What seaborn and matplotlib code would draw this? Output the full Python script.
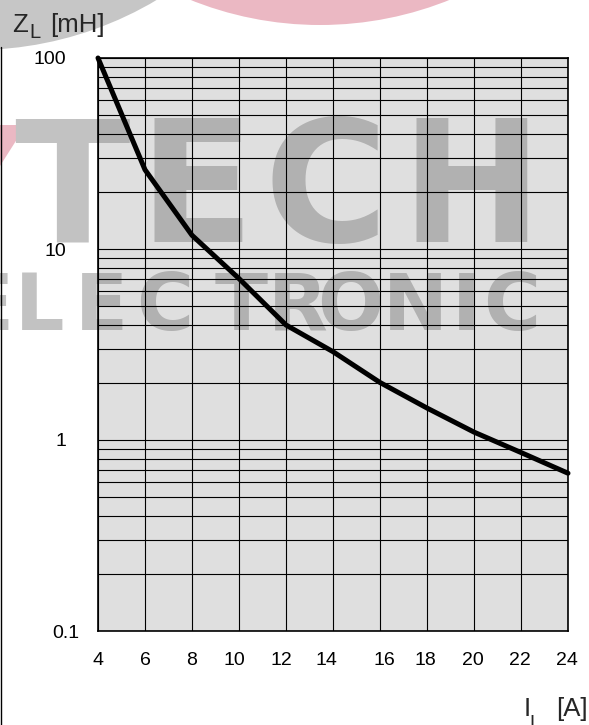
import matplotlib
matplotlib.use("Agg")
import matplotlib.pyplot as plt
import seaborn as sns
from matplotlib.patches import Circle, Polygon
from matplotlib.lines import Line2D
from matplotlib.ticker import LogLocator, NullFormatter, NullLocator
from matplotlib.transforms import ScaledTranslation

# Inductance versus load current
current_a = [4, 6, 8, 10, 12, 14, 16, 18, 20, 22, 24]
inductance_mh = [100, 26, 11.8, 7.0, 4.0, 2.9, 2.0, 1.47, 1.1, 0.86, 0.67]

x_ticks = [4, 6, 8, 10, 12, 14, 16, 18, 20, 22, 24]
x_tick_labels = ["4", "6", "8", "10", "12", "14", "16", "18", "20", "22", "24"]
y_ticks = [0.1, 1, 10, 100]
y_tick_labels = ["0.1", "1", "10", "100"]

logo_word = "TECH"
logo_sub = "ELECTRONIC"

sns.set_style("white")
plt.rcParams["font.family"] = ["Liberation Sans", "DejaVu Sans"]

W, H = 589, 725
fig = plt.figure(figsize=(W / 100, H / 100), dpi=100)
fig.patch.set_facecolor("white")


def fx(x):
    return x / W


def fy(y):
    return 1 - y / H


def inch(x, y):
    return (x / 100, (H - y) / 100)


# ---- background logo -------------------------------------------------
logo_grey = "#c2c2c2"
logo_pink = "#ebb8c3"
fig.add_artist(Circle(inch(-25, -305), 3.55, transform=fig.dpi_scale_trans,
                      fc="#c6c6c6", ec="none", zorder=-3))
fig.add_artist(Circle(inch(320, -322), 3.47, transform=fig.dpi_scale_trans,
                      fc=logo_pink, ec="none", zorder=-3))
fig.add_artist(Polygon([inch(0, 125), inch(26, 125), inch(0, 166)],
                       closed=True, transform=fig.dpi_scale_trans,
                       fc=logo_pink, ec="none", zorder=-3))

word_left = [14, 138, 264, 400]
for ch, x in zip(logo_word, word_left):
    fig.text(fx(x), fy(242), ch, fontsize=122, fontweight="bold",
             family="DejaVu Sans", color=logo_grey, ha="left",
             va="baseline", zorder=-1)

sub_centers = [-13, 40, 101, 165, 241, 298, 350, 415, 466, 512]
for ch, x in zip(logo_sub, sub_centers):
    fig.text(fx(x), fy(330), ch, fontsize=56, fontweight="bold",
             family="DejaVu Sans", color=logo_grey, ha="center",
             va="baseline", zorder=-1)

fig.add_artist(Line2D([fx(0.6), fx(0.6)], [0, fy(47)], color="black",
                      lw=1.0, transform=fig.transFigure, zorder=4))

# ---- chart -----------------------------------------------------------
ax = fig.add_axes([fx(98), fy(631), fx(568) - fx(98), fy(58) - fy(631)])
# translucent panel so the logo shows through darker inside the grid
ax.set_facecolor((125 / 255, 125 / 255, 125 / 255, 0.238))

sns.lineplot(x=current_a, y=inductance_mh, ax=ax, color="black", lw=3.6,
             clip_on=False, zorder=5, estimator=None)

ax.set_yscale("log")
ax.set_xlim(4, 24)
ax.set_ylim(0.1, 100)

ax.set_xticks(x_ticks, labels=x_tick_labels)
ax.xaxis.set_minor_locator(NullLocator())
ax.set_yticks(y_ticks, labels=y_tick_labels)
ax.yaxis.set_minor_locator(LogLocator(base=10, subs=range(2, 10)))
ax.yaxis.set_minor_formatter(NullFormatter())

ax.set_axisbelow(False)
ax.grid(True, which="both", axis="both", color="black", lw=0.8)

ax.tick_params(which="major", direction="out", length=6, width=0.8,
               color="black", labelsize=14, labelcolor="black")
ax.tick_params(axis="x", which="major", pad=9)
ax.tick_params(axis="y", which="major", pad=17)
ax.tick_params(which="minor", length=0)

for s in ax.spines.values():
    s.set_visible(True)
    s.set_color("black")
    s.set_linewidth(1.2)

ax.set_xlabel("")
ax.set_ylabel("")

# small hand-set shifts of individual tick labels
x_shift = [0, 0, 0, -5, -5, -7, 4.5, -1.5, -1.5, -1.4, -1.4]
for lab, dx in zip(ax.get_xticklabels(), x_shift):
    lab.set_transform(lab.get_transform() +
                      ScaledTranslation(dx / 100, 0, fig.dpi_scale_trans))
y_shift = [13, 0, 0, 0]
for lab, dx in zip(ax.get_yticklabels(), y_shift):
    lab.set_transform(lab.get_transform() +
                      ScaledTranslation(dx / 100, 0, fig.dpi_scale_trans))

# axis titles
fig.text(fx(12), fy(32), "Z", fontsize=18.5, ha="left", va="baseline")
fig.text(fx(29), fy(38), "L", fontsize=14.5, ha="left", va="baseline")
fig.text(fx(50), fy(32), "[mH]", fontsize=18.5, ha="left", va="baseline")

fig.text(fx(524), fy(716), "I", fontsize=18.5, ha="left", va="baseline")
fig.text(fx(529), fy(728), "L", fontsize=14, ha="left", va="baseline")
fig.text(fx(588), fy(716), "[A]", fontsize=18.5, ha="right", va="baseline")

fig.savefig("out.png", dpi=100)
